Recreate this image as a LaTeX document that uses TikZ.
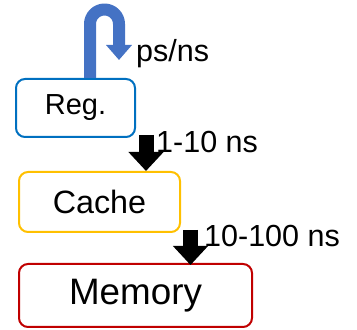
\documentclass[tikz,border=0pt]{standalone}
\usepackage{fontspec}
\setmainfont{Liberation Sans}
\definecolor{regblue}{HTML}{0070C0}
\definecolor{cacheyellow}{HTML}{FFC000}
\definecolor{memred}{HTML}{C00000}
\definecolor{loopblue}{HTML}{4472C4}
\usetikzlibrary{arrows.meta,calc}

\begin{document}
\begin{tikzpicture}[
  x=1pt,
  y=1pt,
  line join=round,
  memcell/.style={rectangle,rounded corners=9pt,line width=2pt,fill=white,inner sep=0pt},
  blockarrow/.style={draw=black,line width=15pt,-{Triangle[length=19pt,width=34pt]}},
  looparrow/.style={draw=loopblue,line width=12pt,-{Triangle[length=15pt,width=25pt]}},
  timelabel/.style={anchor=base west,inner sep=0pt,font=\fontsize{30.5}{30.5}\selectfont}
]
  \useasboundingbox (0,0) rectangle (357,330);

  % memory levels, fastest on top
  \node[memcell,draw=regblue,minimum width=119pt,minimum height=58pt,
    font=\fontsize{29}{29}\selectfont] (reg) at (75.5,222) {Reg.};
  \node[memcell,draw=cacheyellow,minimum width=161pt,minimum height=60pt,
    font=\fontsize{32.3}{32.3}\selectfont] (cache) at (99.5,128) {Cache};
  \node[memcell,draw=memred,minimum width=233pt,minimum height=63pt,
    font=\fontsize{36.8}{36.8}\selectfont] (mem) at (135.5,34.5) {Memory};

  % register access loops back on itself
  \coordinate (L0) at ($(reg.north west)+(75,0)$);
  \draw[looparrow] (L0) -- ++(0,54) arc (180:0:14.5) -- ++(0,-36);
  \node[timelabel] (tl0) at (136,268) {ps/ns};

  \coordinate (A1) at ($(reg.south east)+(10,3)$);
  \draw[blockarrow] (A1) -- (A1 |- cache.north);
  \node[timelabel] (tl1) at (156,177) {1-10 ns};

  \coordinate (A2) at ($(cache.south east)+(9.5,3)$);
  \draw[blockarrow] (A2) -- ($(A2 |- mem.north)+(0,-2)$);
  \node[timelabel] (tl2) at (204,83) {10-100 ns};
\end{tikzpicture}
\end{document}
